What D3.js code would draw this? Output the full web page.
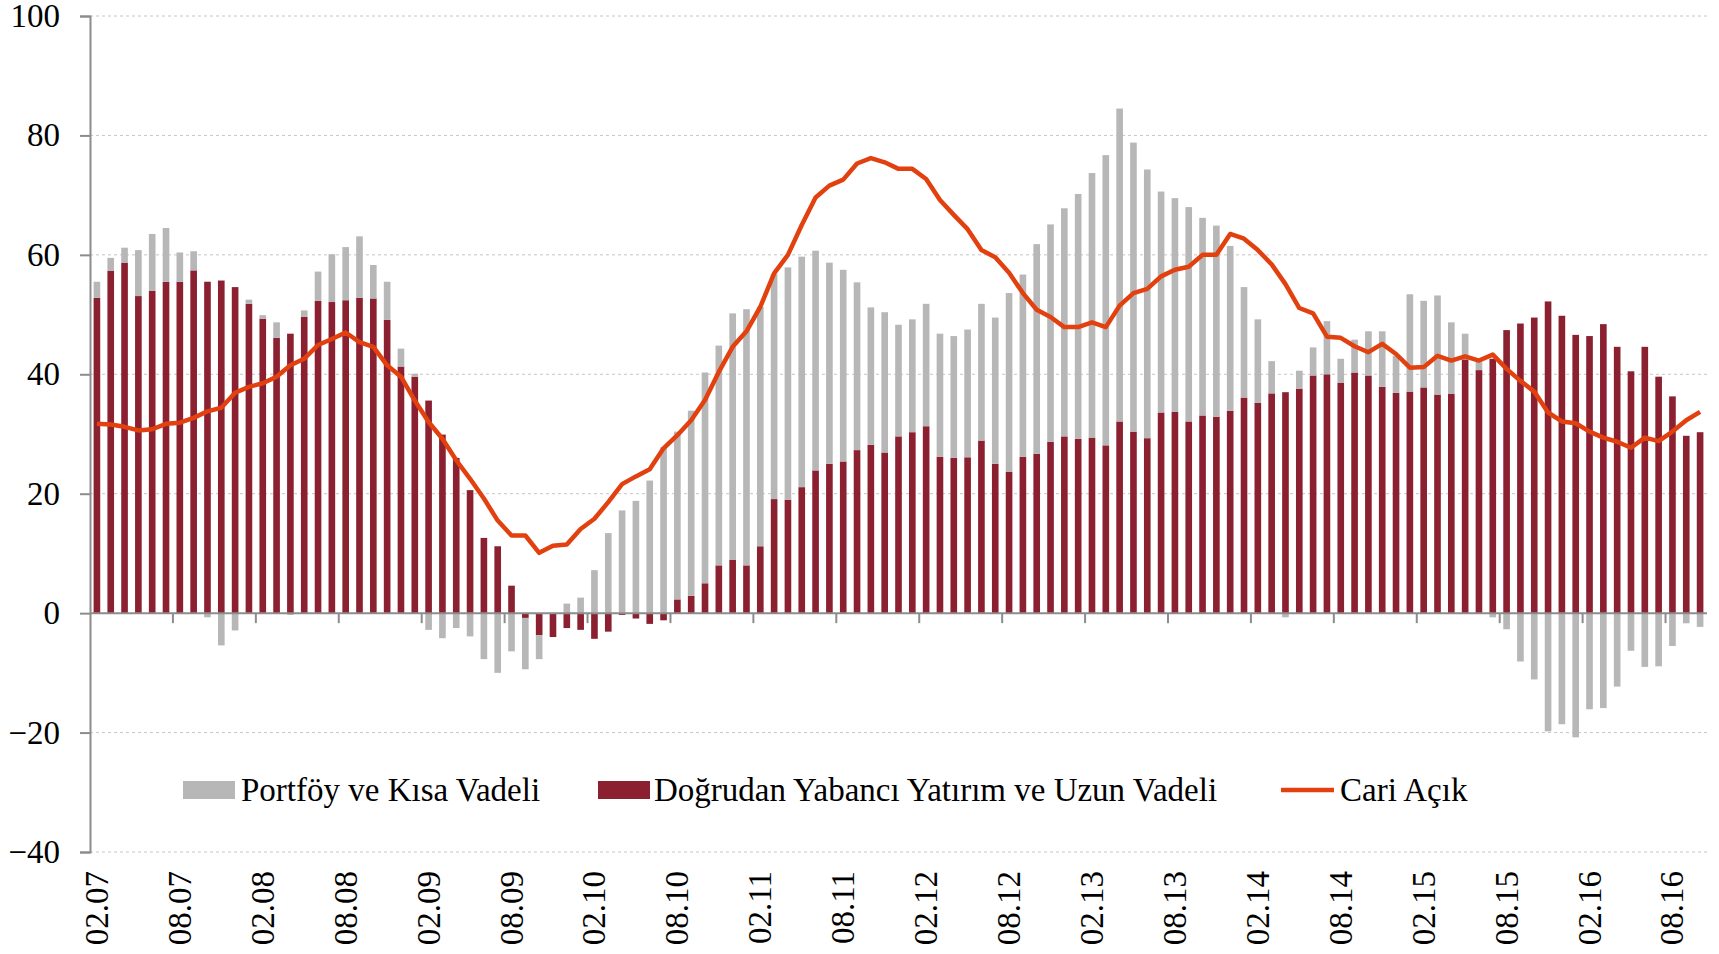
<!DOCTYPE html>
<html>
<head>
<meta charset="utf-8">
<script src="https://cdn.jsdelivr.net/npm/d3@7"></script>
<style>
  body { margin: 0; background: #fff; }
  text { font-family: "Liberation Serif", "Times New Roman", serif; fill: #000; }
</style>
</head>
<body>
<div id="chart"></div>
<script>
// aylar: 02.07 - 10.16
const months = d3.timeMonths(new Date(2007, 1, 1), new Date(2016, 10, 1)).map(d3.timeFormat("%m.%y"));
const tickLabels = ["02.07","08.07","02.08","08.08","02.09","08.09","02.10","08.10","02.11","08.11",
                    "02.12","08.12","02.13","08.13","02.14","08.14","02.15","08.15","02.16","08.16"];
const yTicks = [-40, -20, 0, 20, 40, 60, 80, 100];

// Doğrudan Yabancı Yatırım ve Uzun Vadeli
const fdi = [52.8,57.3,58.7,53.1,54.0,55.5,55.5,57.4,55.5,55.7,54.6,51.8,49.3,46.1,46.8,49.6,52.3,52.1,52.4,52.8,
  52.7,49.1,41.3,39.6,35.6,29.9,26.0,20.6,12.6,11.2,4.6,-0.8,-3.7,-4.0,-2.5,-2.8,-4.3,-3.1,-0.3,-0.9,
  -1.8,-1.2,2.3,2.9,5.0,8.0,8.9,8.0,11.2,19.1,19.0,21.1,23.9,25.0,25.4,27.3,28.2,26.9,29.6,30.3,
  31.3,26.2,26.0,26.1,28.9,25.0,23.7,26.2,26.7,28.7,29.6,29.2,29.4,28.1,32.1,30.4,29.3,33.6,33.7,32.1,
  33.1,32.9,33.9,36.1,35.2,36.8,37.0,37.6,39.8,40.0,38.6,40.3,39.8,37.9,36.9,37.1,37.8,36.6,36.7,42.5,
  40.7,42.6,47.4,48.5,49.5,52.2,49.8,46.6,46.4,48.4,44.6,40.5,44.6,39.6,36.3,29.7,30.3];

// Portföy ve Kısa Vadeli
const portfolio = [2.7,2.2,2.5,7.7,9.5,9.0,4.9,3.2,-0.7,-5.4,-2.9,0.7,0.6,2.6,-0.3,1.1,4.9,8.0,8.9,10.3,
  5.6,6.4,3.0,0.5,-2.8,-4.2,-2.5,-3.9,-7.7,-10.0,-6.4,-8.6,-4.0,0.0,1.6,2.6,7.2,13.4,17.2,18.8,
  22.2,27.8,28.1,31.0,35.3,36.8,41.3,42.9,40.1,37.7,38.9,38.6,36.8,33.7,32.1,28.1,23.0,23.5,18.7,18.9,
  20.5,20.6,20.4,21.4,22.9,24.5,29.9,30.5,35.1,36.4,38.2,41.0,44.3,48.6,52.4,48.4,45.0,37.0,35.8,35.9,
  33.1,32.0,27.6,18.5,14.0,5.4,-0.7,3.0,4.7,8.9,4.0,5.5,7.4,9.3,6.2,16.3,14.5,16.6,12.0,4.3,
  1.6,-0.7,-2.7,-8.1,-11.1,-19.8,-18.6,-20.8,-16.1,-15.9,-12.3,-6.3,-9.0,-8.9,-5.5,-1.7,-2.3];

// Cari Açık
const deficit = [31.7,31.6,31.2,30.6,30.8,31.7,31.9,32.7,33.8,34.4,36.9,37.9,38.5,39.6,41.5,42.6,44.9,45.9,47.0,45.4,
  44.6,41.5,39.6,35.6,32.0,29.2,25.6,22.5,19.2,15.5,13.0,13.0,10.1,11.3,11.5,14.1,15.8,18.6,21.6,22.9,
  24.1,27.6,29.8,32.3,35.7,40.4,44.6,47.2,51.3,56.9,60.0,65.0,69.6,71.6,72.6,75.3,76.2,75.5,74.4,74.4,
  72.7,69.2,66.7,64.3,60.8,59.6,57.0,53.6,50.8,49.6,47.9,47.9,48.7,47.9,51.5,53.6,54.3,56.4,57.5,58.0,
  60.0,60.0,63.5,62.7,60.8,58.4,55.1,51.1,50.2,46.3,46.1,44.7,43.7,45.1,43.4,41.1,41.2,43.1,42.3,43.0,
  42.3,43.3,40.9,38.9,37.1,33.6,32.1,31.8,30.4,29.4,28.7,27.7,29.4,28.8,30.4,32.3,33.7];

const colors = { portfolio: "#b7b7b7", fdi: "#8b2031", line: "#e2410f" };

const width = 1719, height = 954;
const plotLeft = 90, plotRight = 1707, plotTop = 16, plotBottom = 852;

const svg = d3.select("#chart").append("svg")
    .attr("width", width)
    .attr("height", height);

const x = d3.scaleBand()
    .domain(months)
    .range([plotLeft, plotRight])
    .paddingInner(0.52)
    .paddingOuter(0.26);

const y = d3.scaleLinear()
    .domain([-40, 100])
    .range([plotBottom, plotTop]);

// grid lines
svg.append("g")
    .selectAll("line")
    .data(yTicks.filter(d => d !== 0))
    .enter()
    .append("line")
    .attr("x1", plotLeft)
    .attr("x2", plotRight)
    .attr("y1", d => y(d))
    .attr("y2", d => y(d))
    .attr("stroke", "#c6c6c6")
    .attr("stroke-width", 1)
    .attr("stroke-dasharray", "3,3");

// stacked bars (excel style: negatives stack downward)
const rows = months.map((m, i) => ({ month: m, fdi: fdi[i], portfolio: portfolio[i] }));
const series = d3.stack()
    .keys(["fdi", "portfolio"])
    .offset(d3.stackOffsetDiverging)(rows);

svg.append("g")
    .selectAll("g")
    .data(series)
    .enter()
    .append("g")
    .attr("fill", d => colors[d.key])
    .selectAll("rect")
    .data(d => d)
    .enter()
    .append("rect")
    .attr("x", d => x(d.data.month))
    .attr("width", x.bandwidth())
    .attr("y", d => y(Math.max(d[0], d[1])))
    .attr("height", d => Math.abs(y(d[0]) - y(d[1])));

// y axis
const yAxis = svg.append("g")
    .attr("transform", `translate(${plotLeft},0)`)
    .call(d3.axisLeft(y).tickValues(yTicks).tickSize(10).tickPadding(20).tickFormat(d3.format("d")));
yAxis.select(".domain").attr("stroke", "#8c8c8c").attr("stroke-width", 2);
yAxis.selectAll(".tick line").attr("stroke", "#8c8c8c").attr("stroke-width", 2);
yAxis.selectAll(".tick text")
    .attr("font-size", 33)
    .attr("font-family", "Liberation Serif")
    .attr("fill", "#000");

// category axis on zero line
svg.append("line")
    .attr("x1", plotLeft)
    .attr("x2", plotRight)
    .attr("y1", y(0))
    .attr("y2", y(0))
    .attr("stroke", "#8c8c8c")
    .attr("stroke-width", 2);

const step = x.step();
const tickIdx = d3.range(0, months.length, 6).slice(1);
svg.append("g")
    .selectAll("line")
    .data(tickIdx)
    .enter()
    .append("line")
    .attr("x1", i => x(months[i]) + x.bandwidth() / 2 - step / 2)
    .attr("x2", i => x(months[i]) + x.bandwidth() / 2 - step / 2)
    .attr("y1", y(0))
    .attr("y2", y(0) + 10)
    .attr("stroke", "#8c8c8c")
    .attr("stroke-width", 2);

// x labels (rotated, under the plot)
svg.append("g")
    .selectAll("text")
    .data(tickLabels)
    .enter()
    .append("text")
    .attr("transform", d => `translate(${x(d) + x.bandwidth() / 2 + 11},${plotBottom + 19}) rotate(-90)`)
    .attr("text-anchor", "end")
    .attr("font-size", 33)
    .text(d => d);

// current account line
const line = d3.line()
    .x((d, i) => x(months[i]) + x.bandwidth() / 2)
    .y(d => y(d));

svg.append("path")
    .datum(deficit)
    .attr("fill", "none")
    .attr("stroke", colors.line)
    .attr("stroke-width", 4.5)
    .attr("stroke-linejoin", "round")
    .attr("d", line);

// legend
const legend = svg.append("g");
const ly = 790;
legend.append("rect").attr("x", 183).attr("y", ly - 9).attr("width", 52).attr("height", 18).attr("fill", colors.portfolio);
legend.append("text").attr("x", 241).attr("y", ly + 11).attr("font-size", 33).text("Portföy ve Kısa Vadeli");
legend.append("rect").attr("x", 598).attr("y", ly - 9).attr("width", 52).attr("height", 18).attr("fill", colors.fdi);
legend.append("text").attr("x", 654).attr("y", ly + 11).attr("font-size", 33).text("Doğrudan Yabancı Yatırım ve Uzun Vadeli");
legend.append("line").attr("x1", 1281).attr("x2", 1334).attr("y1", ly).attr("y2", ly)
    .attr("stroke", colors.line).attr("stroke-width", 4.5);
legend.append("text").attr("x", 1340).attr("y", ly + 11).attr("font-size", 33).text("Cari Açık");
</script>
</body>
</html>
